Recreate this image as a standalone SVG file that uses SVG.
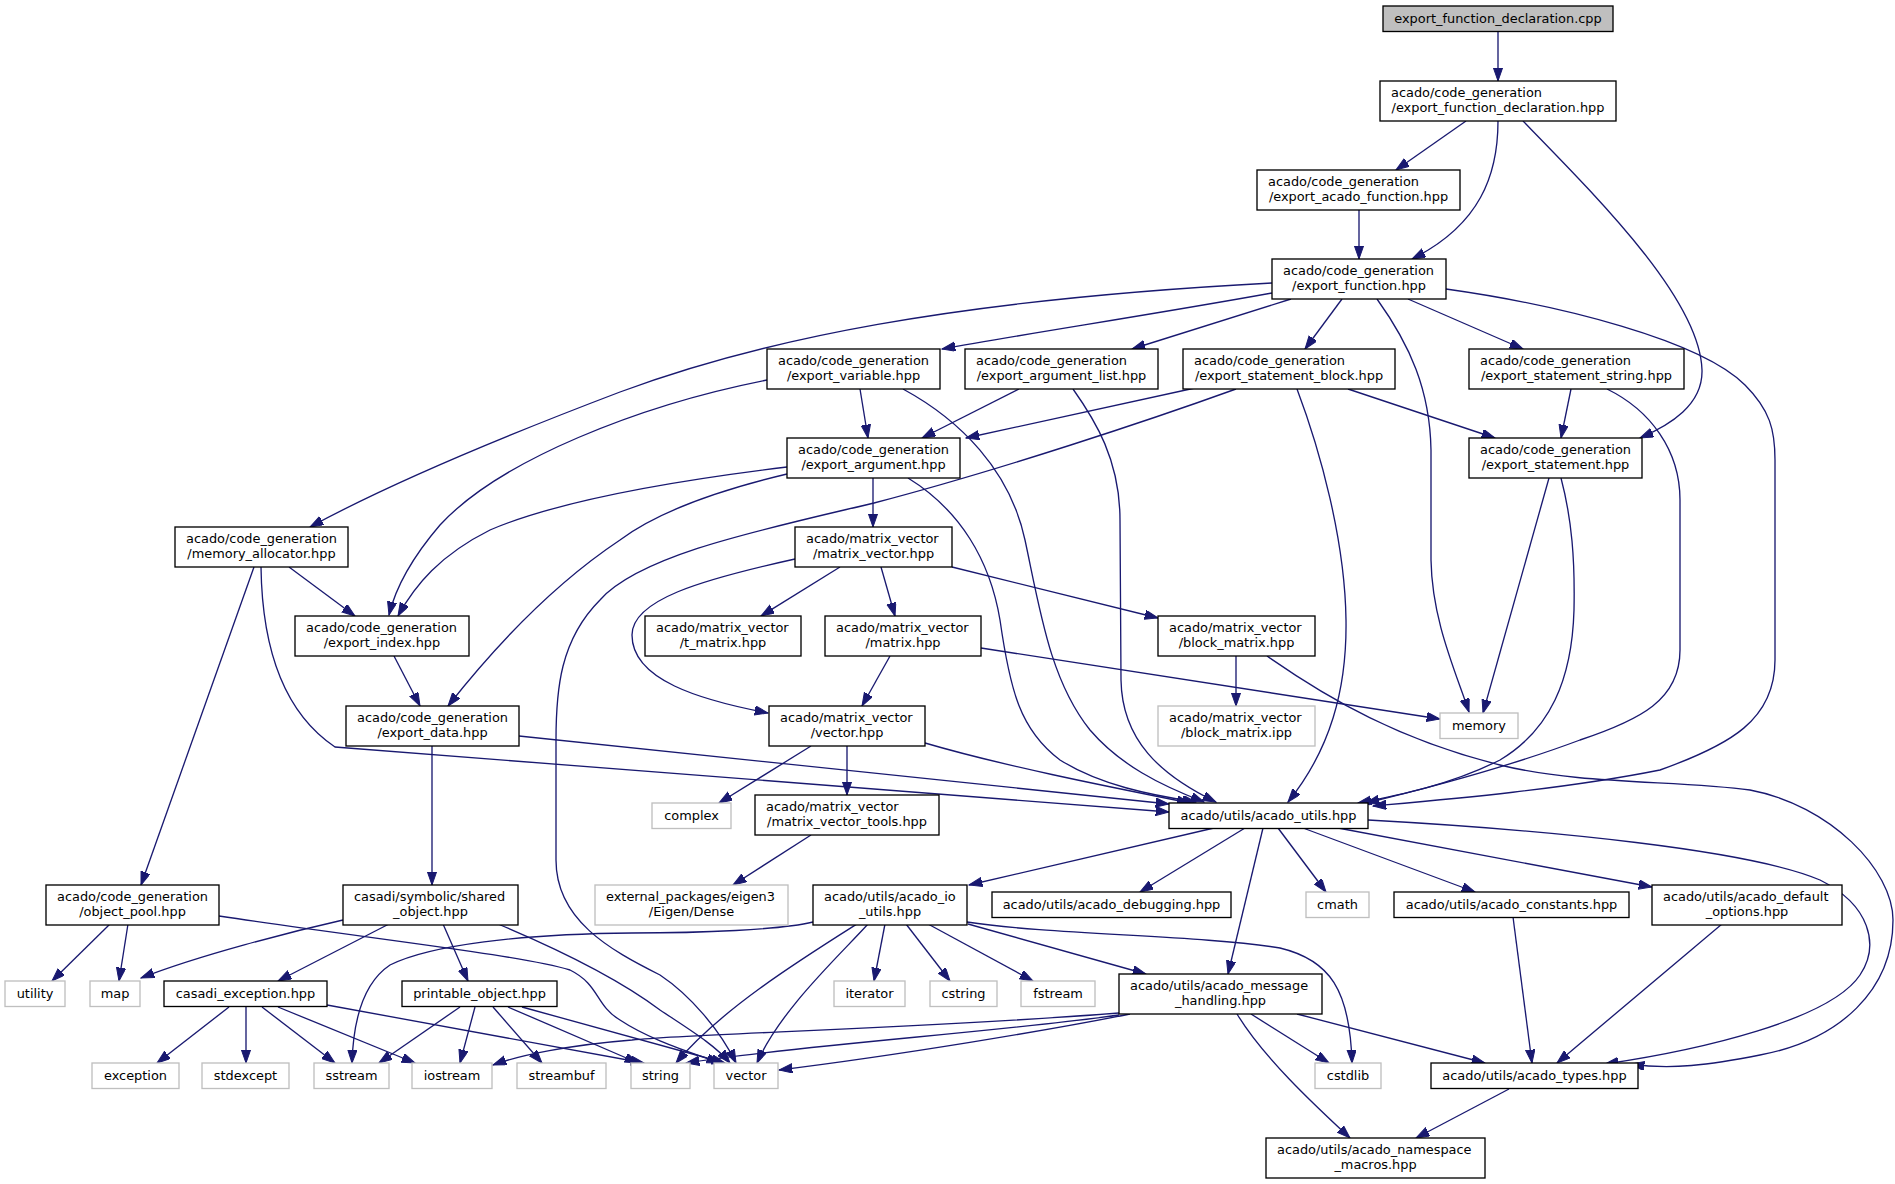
<svg xmlns="http://www.w3.org/2000/svg" width="1895" height="1184" viewBox="0 0 1895 1184">
<defs>
<marker id="a" markerUnits="userSpaceOnUse" markerWidth="14" markerHeight="10" refX="13.3" refY="4.67" orient="auto">
<path d="M0,0 L13.3,4.67 L0,9.33 z" fill="#191970" stroke="#191970" stroke-width="1"/>
</marker>
</defs>
<style>
.n rect{fill:#fff;stroke:#000;stroke-width:1.33}
.g rect{fill:#fff;stroke:#bfbfbf;stroke-width:1.33}
.r rect{fill:#bfbfbf;stroke:#000;stroke-width:1.33}
text{font-family:"DejaVu Sans","Liberation Sans",sans-serif;font-size:12.9px;fill:#000}
.c{text-anchor:middle}
#edges path{fill:none;stroke:#191970;stroke-width:1.33;marker-end:url(#a)}
</style>
<rect width="1895" height="1184" fill="#fff"/>
<g id="edges">
<path d="M1498,31 L1498,81"/>
<path d="M1466,121 L1396,170"/>
<path d="M1498,121 C1498,175 1480,225 1412,259"/>
<path d="M1523,121 C1600,200 1700,300 1702,370 C1703,405 1670,425 1640,438"/>
<path d="M1359,210 L1359,259"/>
<path d="M1272,283 C950,300 760,340 620,392 C520,430 400,478 310,527"/>
<path d="M1272,293 C1150,315 1030,333 942,349"/>
<path d="M1291,299 L1132,349"/>
<path d="M1342,299 L1305,349"/>
<path d="M1408,299 L1523,349"/>
<path d="M1377,299 C1410,345 1430,390 1431,450 L1431,560 C1432,620 1455,670 1469,712"/>
<path d="M1446,289 C1560,305 1700,340 1745,385 C1770,410 1775,430 1775,460 L1775,660 C1775,720 1730,745 1660,770 C1560,790 1440,800 1373,806"/>
<path d="M767,380 C640,405 500,460 440,525 C410,560 395,590 389,615"/>
<path d="M860,389 L868,438"/>
<path d="M903,389 C960,420 1010,470 1025,540 C1040,610 1050,680 1090,730 C1120,765 1160,785 1204,802"/>
<path d="M1019,389 L922,438"/>
<path d="M1073,389 C1095,420 1120,460 1120,520 L1121,680 C1122,740 1160,775 1216,802"/>
<path d="M1195,388 L966,438"/>
<path d="M1236,389 C1150,420 1000,470 874,503 C760,530 640,555 600,600 C560,640 556,690 556,740 L556,860 C556,920 610,950 660,975 C690,995 720,1030 736,1063"/>
<path d="M1297,389 C1320,450 1345,540 1346,620 C1347,690 1330,750 1288,802"/>
<path d="M1348,389 L1495,438"/>
<path d="M1571,389 L1561,438"/>
<path d="M1607,389 C1650,410 1680,450 1680,500 L1680,650 C1680,700 1640,720 1580,740 C1500,770 1420,790 1366,803"/>
<path d="M1549,478 L1483,713"/>
<path d="M1561,478 C1572,520 1575,560 1574,610 C1572,680 1550,730 1500,760 C1450,785 1400,795 1358,803"/>
<path d="M289,567 L355,616"/>
<path d="M254,567 L141,885"/>
<path d="M261,567 C262,640 280,710 335,747 L1169,812"/>
<path d="M787,467 C680,480 560,500 490,530 C440,555 415,585 398,616"/>
<path d="M787,474 C720,490 660,510 620,540 C560,580 500,640 448,706"/>
<path d="M873,478 L873,527"/>
<path d="M908,478 C960,510 990,560 1000,620 C1010,690 1020,730 1060,760 C1100,785 1150,795 1196,802"/>
<path d="M394,656 L420,706"/>
<path d="M840,567 L761,616"/>
<path d="M881,567 L895,616"/>
<path d="M952,567 L1158,618"/>
<path d="M795,559 C700,580 632,600 632,635 C632,680 700,700 768,713"/>
<path d="M890,656 L862,706"/>
<path d="M981,648 L1440,719"/>
<path d="M1236,656 L1236,706"/>
<path d="M1267,656 C1330,700 1400,740 1500,765 C1580,785 1680,780 1750,790 C1830,805 1893,870 1893,920 C1893,990 1840,1040 1760,1055 C1710,1065 1670,1070 1631,1064"/>
<path d="M432,746 L432,885"/>
<path d="M519,736 L1169,804"/>
<path d="M811,746 L719,803"/>
<path d="M847,746 L847,795"/>
<path d="M925,743 C1000,765 1100,785 1190,803"/>
<path d="M811,835 L733,885"/>
<path d="M1214,828 L969,885"/>
<path d="M1245,828 L1140,892"/>
<path d="M1263,828 L1228,974"/>
<path d="M1278,828 L1326,892"/>
<path d="M1303,828 L1475,892"/>
<path d="M1338,828 L1652,887"/>
<path d="M1368,820 C1550,830 1750,850 1820,880 C1870,905 1880,945 1860,975 C1830,1020 1700,1050 1605,1064"/>
<path d="M110,924 L52,981"/>
<path d="M128,924 L119,981"/>
<path d="M219,916 C380,940 520,955 570,970 C600,985 595,1005 620,1020 C650,1040 690,1052 720,1063"/>
<path d="M343,920 C290,932 200,955 141,978"/>
<path d="M389,924 L278,981"/>
<path d="M443,924 L468,981"/>
<path d="M498,924 C560,950 620,980 660,1010 C690,1030 715,1045 730,1063"/>
<path d="M229,1007 L157,1063"/>
<path d="M246,1007 L246,1063"/>
<path d="M262,1007 L335,1063"/>
<path d="M278,1007 L415,1063"/>
<path d="M327,1005 L644,1063"/>
<path d="M460,1007 L379,1063"/>
<path d="M475,1007 L460,1063"/>
<path d="M493,1007 L542,1063"/>
<path d="M508,1007 L638,1063"/>
<path d="M522,1007 L725,1063"/>
<path d="M813,922 C780,930 700,933 632,933 C520,934 430,945 390,965 C360,985 353,1030 352,1063"/>
<path d="M857,924 C800,960 720,1010 676,1063"/>
<path d="M868,924 C840,955 780,1010 757,1063"/>
<path d="M885,924 L874,981"/>
<path d="M906,924 L950,981"/>
<path d="M928,924 L1033,981"/>
<path d="M968,924 L1146,974"/>
<path d="M967,922 C1050,935 1200,935 1280,948 C1330,960 1350,990 1352,1063"/>
<path d="M1119,1013 C900,1030 700,1033 632,1040 C570,1045 520,1055 493,1065"/>
<path d="M1119,1015 C1000,1032 800,1045 686,1063"/>
<path d="M1130,1014 C1050,1030 900,1055 779,1070"/>
<path d="M1251,1014 L1329,1063"/>
<path d="M1297,1014 L1485,1063"/>
<path d="M1237,1014 C1265,1060 1320,1110 1350,1138"/>
<path d="M1513,917 L1532,1063"/>
<path d="M1722,924 L1557,1063"/>
<path d="M1509,1089 L1416,1138"/>
</g>
<g id="n_cpp" class="r"><rect x="1383" y="6" width="230" height="25.5"/><text class="c" x="1498" y="23">export_function_declaration.cpp</text></g>
<g id="n_efd" class="n"><rect x="1380" y="81" width="236" height="40"/><text x="1391" y="97">acado/code_generation</text><text class="c" x="1498" y="111.6">/export_function_declaration.hpp</text></g>
<g id="n_eaf" class="n"><rect x="1257" y="170" width="203" height="40"/><text x="1268" y="186">acado/code_generation</text><text class="c" x="1358.5" y="200.6">/export_acado_function.hpp</text></g>
<g id="n_ef" class="n"><rect x="1272" y="259" width="174" height="40"/><text x="1283" y="275">acado/code_generation</text><text class="c" x="1359" y="289.6">/export_function.hpp</text></g>
<g id="n_ev" class="n"><rect x="767" y="349" width="173" height="40"/><text x="778" y="365">acado/code_generation</text><text class="c" x="853.5" y="379.6">/export_variable.hpp</text></g>
<g id="n_eal" class="n"><rect x="965" y="349" width="193" height="40"/><text x="976" y="365">acado/code_generation</text><text class="c" x="1061.5" y="379.6">/export_argument_list.hpp</text></g>
<g id="n_esb" class="n"><rect x="1183" y="349" width="212" height="40"/><text x="1194" y="365">acado/code_generation</text><text class="c" x="1289" y="379.6">/export_statement_block.hpp</text></g>
<g id="n_ess" class="n"><rect x="1469" y="349" width="215" height="40"/><text x="1480" y="365">acado/code_generation</text><text class="c" x="1576.5" y="379.6">/export_statement_string.hpp</text></g>
<g id="n_ma" class="n"><rect x="175" y="527" width="173" height="40"/><text x="186" y="543">acado/code_generation</text><text class="c" x="261.5" y="557.6">/memory_allocator.hpp</text></g>
<g id="n_ea" class="n"><rect x="787" y="438" width="173" height="40"/><text x="798" y="454">acado/code_generation</text><text class="c" x="873.5" y="468.6">/export_argument.hpp</text></g>
<g id="n_es" class="n"><rect x="1469" y="438" width="173" height="40"/><text x="1480" y="454">acado/code_generation</text><text class="c" x="1555.5" y="468.6">/export_statement.hpp</text></g>
<g id="n_ei" class="n"><rect x="295" y="616" width="174" height="40"/><text x="306" y="632">acado/code_generation</text><text class="c" x="382" y="646.6">/export_index.hpp</text></g>
<g id="n_mv" class="n"><rect x="795" y="527" width="157" height="40"/><text x="806" y="543">acado/matrix_vector</text><text class="c" x="873.5" y="557.6">/matrix_vector.hpp</text></g>
<g id="n_tm" class="n"><rect x="645" y="616" width="156" height="40"/><text x="656" y="632">acado/matrix_vector</text><text class="c" x="723" y="646.6">/t_matrix.hpp</text></g>
<g id="n_mx" class="n"><rect x="825" y="616" width="156" height="40"/><text x="836" y="632">acado/matrix_vector</text><text class="c" x="903" y="646.6">/matrix.hpp</text></g>
<g id="n_bm" class="n"><rect x="1158" y="616" width="157" height="40"/><text x="1169" y="632">acado/matrix_vector</text><text class="c" x="1236.5" y="646.6">/block_matrix.hpp</text></g>
<g id="n_ed" class="n"><rect x="346" y="706" width="173" height="40"/><text x="357" y="722">acado/code_generation</text><text class="c" x="432.5" y="736.6">/export_data.hpp</text></g>
<g id="n_vec" class="n"><rect x="769" y="706" width="156" height="40"/><text x="780" y="722">acado/matrix_vector</text><text class="c" x="847" y="736.6">/vector.hpp</text></g>
<g id="n_bmi" class="g"><rect x="1158" y="706" width="157" height="40"/><text x="1169" y="722">acado/matrix_vector</text><text class="c" x="1236.5" y="736.6">/block_matrix.ipp</text></g>
<g id="n_mem" class="g"><rect x="1440" y="713" width="78" height="25.5"/><text class="c" x="1479" y="730">memory</text></g>
<g id="n_cplx" class="g"><rect x="652" y="803" width="79" height="25.5"/><text class="c" x="691.5" y="820">complex</text></g>
<g id="n_mvt" class="n"><rect x="755" y="795" width="184" height="40"/><text x="766" y="811">acado/matrix_vector</text><text class="c" x="847" y="825.6">/matrix_vector_tools.hpp</text></g>
<g id="n_au" class="n"><rect x="1169" y="803" width="199" height="25.5"/><text class="c" x="1268.5" y="820">acado/utils/acado_utils.hpp</text></g>
<g id="n_op" class="n"><rect x="46" y="885" width="173" height="40"/><text x="57" y="901">acado/code_generation</text><text class="c" x="132.5" y="915.6">/object_pool.hpp</text></g>
<g id="n_so" class="n"><rect x="343" y="885" width="175" height="40"/><text x="354" y="901">casadi/symbolic/shared</text><text class="c" x="430.5" y="915.6">_object.hpp</text></g>
<g id="n_eig" class="g"><rect x="595" y="885" width="193" height="40"/><text x="606" y="901">external_packages/eigen3</text><text class="c" x="691.5" y="915.6">/Eigen/Dense</text></g>
<g id="n_aio" class="n"><rect x="813" y="885" width="154" height="40"/><text x="824" y="901">acado/utils/acado_io</text><text class="c" x="890" y="915.6">_utils.hpp</text></g>
<g id="n_adbg" class="n"><rect x="992" y="892" width="239" height="25.5"/><text class="c" x="1111.5" y="909">acado/utils/acado_debugging.hpp</text></g>
<g id="n_cmath" class="g"><rect x="1306" y="892" width="63" height="25.5"/><text class="c" x="1337.5" y="909">cmath</text></g>
<g id="n_acon" class="n"><rect x="1394" y="892" width="235" height="25.5"/><text class="c" x="1511.5" y="909">acado/utils/acado_constants.hpp</text></g>
<g id="n_adef" class="n"><rect x="1652" y="885" width="190" height="40"/><text x="1663" y="901">acado/utils/acado_default</text><text class="c" x="1747" y="915.6">_options.hpp</text></g>
<g id="n_utility" class="g"><rect x="5" y="981" width="60" height="25.5"/><text class="c" x="35" y="998">utility</text></g>
<g id="n_map" class="g"><rect x="90" y="981" width="50" height="25.5"/><text class="c" x="115" y="998">map</text></g>
<g id="n_cex" class="n"><rect x="164" y="981" width="163" height="25.5"/><text class="c" x="245.5" y="998">casadi_exception.hpp</text></g>
<g id="n_po" class="n"><rect x="402" y="981" width="155" height="25.5"/><text class="c" x="479.5" y="998">printable_object.hpp</text></g>
<g id="n_iter" class="g"><rect x="834" y="981" width="71" height="25.5"/><text class="c" x="869.5" y="998">iterator</text></g>
<g id="n_cstring" class="g"><rect x="930" y="981" width="67" height="25.5"/><text class="c" x="963.5" y="998">cstring</text></g>
<g id="n_fstream" class="g"><rect x="1021" y="981" width="74" height="25.5"/><text class="c" x="1058" y="998">fstream</text></g>
<g id="n_amh" class="n"><rect x="1119" y="974" width="203" height="40"/><text x="1130" y="990">acado/utils/acado_message</text><text class="c" x="1220.5" y="1004.6">_handling.hpp</text></g>
<g id="n_exc" class="g"><rect x="92" y="1063" width="87" height="25.5"/><text class="c" x="135.5" y="1080">exception</text></g>
<g id="n_stdexc" class="g"><rect x="202" y="1063" width="87" height="25.5"/><text class="c" x="245.5" y="1080">stdexcept</text></g>
<g id="n_sstream" class="g"><rect x="314" y="1063" width="75" height="25.5"/><text class="c" x="351.5" y="1080">sstream</text></g>
<g id="n_iostream" class="g"><rect x="412" y="1063" width="80" height="25.5"/><text class="c" x="452" y="1080">iostream</text></g>
<g id="n_streambuf" class="g"><rect x="517" y="1063" width="89" height="25.5"/><text class="c" x="561.5" y="1080">streambuf</text></g>
<g id="n_string" class="g"><rect x="631" y="1063" width="59" height="25.5"/><text class="c" x="660.5" y="1080">string</text></g>
<g id="n_vector" class="g"><rect x="714" y="1063" width="64" height="25.5"/><text class="c" x="746" y="1080">vector</text></g>
<g id="n_cstdlib" class="g"><rect x="1315" y="1063" width="66" height="25.5"/><text class="c" x="1348" y="1080">cstdlib</text></g>
<g id="n_at" class="n"><rect x="1431" y="1063" width="207" height="25.5"/><text class="c" x="1534.5" y="1080">acado/utils/acado_types.hpp</text></g>
<g id="n_anm" class="n"><rect x="1266" y="1138" width="219" height="40"/><text x="1277" y="1154">acado/utils/acado_namespace</text><text class="c" x="1375.5" y="1168.6">_macros.hpp</text></g>
</svg>
